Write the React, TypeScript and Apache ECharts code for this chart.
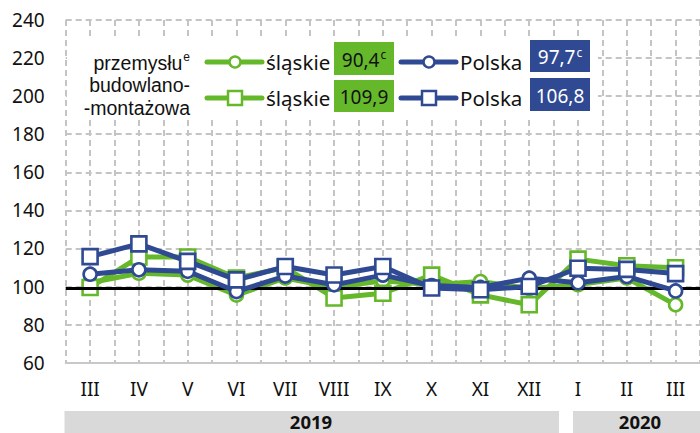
import React, { useEffect, useRef } from "react";
import * as echarts from "echarts";

const months = ["III", "IV", "V", "VI", "VII", "VIII", "IX", "X", "XI", "XII", "I", "II", "III"];
const years = ["2019", "2020"];
// produkcja budowlano-montażowa: circles / squares
const slaskieCircle = [102, 107, 106, 95.5, 104.5, 99.5, 103, 101, 102.6, 99, 101, 104.5, 90.4];
const slaskieSquare = [99.5, 115.5, 115.5, 104.5, 110, 94, 96.5, 106, 95.6, 90.4, 114.4, 110.9, 109.9];
const polskaCircle = [106.5, 108.8, 108, 97.4, 105.5, 100.9, 106, 100.5, 99.5, 104.4, 102, 105.3, 97.7];
const polskaSquare = [115.7, 122.4, 113.2, 103.5, 110.5, 106.1, 110.5, 99.2, 98.3, 100, 109.6, 109, 106.8];
const referenceLevel = [99.3];
const yTicks = { min: 60, max: 240, step: 20 };

const GREEN = "#66b82b";
const BLUE = "#2f4a93";
const FONT = "'Noto Sans', sans-serif";
const FONT2 = "'Liberation Sans', Arial, sans-serif";
const fmt = (v: number) => v.toFixed(1).replace(".", ",");

export default function App() {
  const ref = useRef<HTMLDivElement>(null);
  useEffect(() => {
    const chart = echarts.init(ref.current!, null, { renderer: "svg" });
    const mk = (name: string, data: number[], color: string, symbol: string, size: number, z: number) => ({
      name,
      type: "line",
      data,
      xAxisIndex: 0,
      yAxisIndex: 0,
      symbol,
      symbolSize: size,
      showAllSymbol: true,
      z,
      lineStyle: { color, width: 5 },
      itemStyle: { color: "#ffffff", borderColor: color, borderWidth: 2.6 },
      emphasis: { disabled: true },
    });
    const Z = 101;
    const legendRow = (y: number, color: string, x0: number, symbol: "circle" | "rect", label: string, value: string, boxX: number, boxY: number, boxH: number, textColor: string) => {
      const els: any[] = [
        { type: "line", z: Z, shape: { x1: x0, y1: y, x2: x0 + 55, y2: y }, style: { stroke: color, lineWidth: 5, lineCap: "round" } },
        symbol === "circle"
          ? { type: "circle", z: Z + 1, shape: { cx: x0 + 28, cy: y, r: 5.5 }, style: { fill: "#fff", stroke: color, lineWidth: 2.5 } }
          : { type: "rect", z: Z + 1, shape: { x: x0 + 21, y: y - 7, width: 14, height: 14 }, style: { fill: "#fff", stroke: color, lineWidth: 2.5 } },
        { type: "text", z: Z, x: x0 + 59, y, style: { text: label, fontFamily: FONT, fontSize: 20.5, fill: "#111", verticalAlign: "middle", align: "left" } },
        { type: "rect", z: Z, shape: { x: boxX, y: boxY, width: 60, height: boxH }, style: { fill: color } },
        {
          type: "text",
          z: Z + 1,
          x: boxX + 30,
          y: boxY + boxH / 2 + 1,
          style: {
            text: value,
            fontFamily: FONT,
            fontSize: 19,
            fill: textColor,
            align: "center",
            verticalAlign: "middle",
            rich: {
              v: { fontFamily: FONT, fontSize: 19, fill: textColor },
              s: { fontFamily: FONT, fontSize: 12, fill: textColor, padding: [0, 0, 10, 1] },
            },
          },
        },
      ];
      return els;
    };
    const last = (a: number[]) => a[a.length - 1];
    const graphic: any[] = [
      { type: "rect", z: 100, shape: { x: 67, y: 40, width: 531, height: 80 }, style: { fill: "#ffffff" } },
      {
        type: "text",
        z: Z,
        x: 190,
        y: 85,
        style: {
          text: "{a|przemysłu}{e|e}\n{a|budowlano-}\n{a|-montażowa}",
          align: "right",
          verticalAlign: "middle",
          fontFamily: FONT2,
          fontSize: 19.5,
          lineHeight: 22.5,
          fill: "#111",
          rich: {
            a: { fontFamily: FONT2, fontSize: 19.5, lineHeight: 22.5, fill: "#111" },
            e: { fontFamily: FONT2, fontSize: 12, lineHeight: 22.5, fill: "#111", padding: [0, 0, 12, 1] },
          },
        },
      },
      ...legendRow(62, GREEN, 207, "circle", "śląskie", `{v|${fmt(last(slaskieCircle))}}{s|c}`, 334, 42, 33, "#111"),
      ...legendRow(98, GREEN, 207, "rect", "śląskie", `{v|${fmt(last(slaskieSquare))}}`, 334, 80, 32, "#111"),
      ...legendRow(62, BLUE, 401, "circle", "Polska", `{v|${fmt(last(polskaCircle))}}{s|c}`, 530, 40, 32, "#fff"),
      ...legendRow(98, BLUE, 401, "rect", "Polska", `{v|${fmt(last(polskaSquare))}}`, 530, 78, 33, "#fff"),
      { type: "rect", z: Z, shape: { x: 64.5, y: 411, width: 494.5, height: 22 }, style: { fill: "#d9d9d9" } },
      { type: "rect", z: Z, shape: { x: 573, y: 411, width: 130, height: 22 }, style: { fill: "#d9d9d9" } },
      { type: "text", z: Z + 1, x: 311, y: 421.5, style: { text: years[0], align: "center", verticalAlign: "middle", fontFamily: FONT, fontSize: 18.5, fontWeight: "bold", fill: "#111" } },
      { type: "text", z: Z + 1, x: 640, y: 421.5, style: { text: years[1], align: "center", verticalAlign: "middle", fontFamily: FONT, fontSize: 18.5, fontWeight: "bold", fill: "#111" } },
    ];
    chart.setOption({
      animation: false,
      textStyle: { fontFamily: FONT },
      grid: { left: 65.7, top: 20, width: 638, height: 342.7, containLabel: false },
      xAxis: [
        {
          type: "category",
          data: months,
          boundaryGap: true,
          axisLine: { show: true, lineStyle: { color: "#c8c8c8", width: 2 } },
          axisTick: { show: false },
          axisLabel: { color: "#111", fontSize: 19, margin: 17, fontFamily: FONT, interval: 0 },
          splitLine: { show: false },
          z: 1,
        },
        {
          type: "value",
          min: 0,
          max: months.length * 2,
          interval: 1,
          position: "bottom",
          axisLine: { show: false },
          axisTick: { show: false },
          axisLabel: { show: false },
          splitLine: { show: true, lineStyle: { color: "#c4c4c4", width: 2, type: [6, 4] } },
        },
      ],
      yAxis: {
        type: "value",
        min: yTicks.min,
        max: yTicks.max,
        interval: yTicks.step,
        axisLine: { show: false },
        axisTick: { show: false },
        axisLabel: { color: "#111", fontSize: 19, margin: 21, fontFamily: FONT },
        splitLine: { show: true, lineStyle: { color: "#c4c4c4", width: 2, type: [6, 4] } },
      },
      series: [
        mk("śląskie a", slaskieCircle, GREEN, "circle", 13, 3),
        mk("śląskie b", slaskieSquare, GREEN, "rect", 15, 4),
        mk("Polska a", polskaCircle, BLUE, "circle", 13, 5),
        mk("Polska b", polskaSquare, BLUE, "rect", 15, 6),
        {
          type: "line",
          data: [],
          z: 10,
          markLine: {
            silent: true,
            symbol: "none",
            label: { show: false },
            lineStyle: { color: "#000", width: 3, type: "solid" },
            data: referenceLevel.map((v) => ({ yAxis: v })),
          },
        },
      ],
      graphic,
    });
    return () => chart.dispose();
  }, []);
  return <div ref={ref} style={{ position: "fixed", left: 0, top: 0, width: 700, height: 433, background: "#fff" }} />;
}
